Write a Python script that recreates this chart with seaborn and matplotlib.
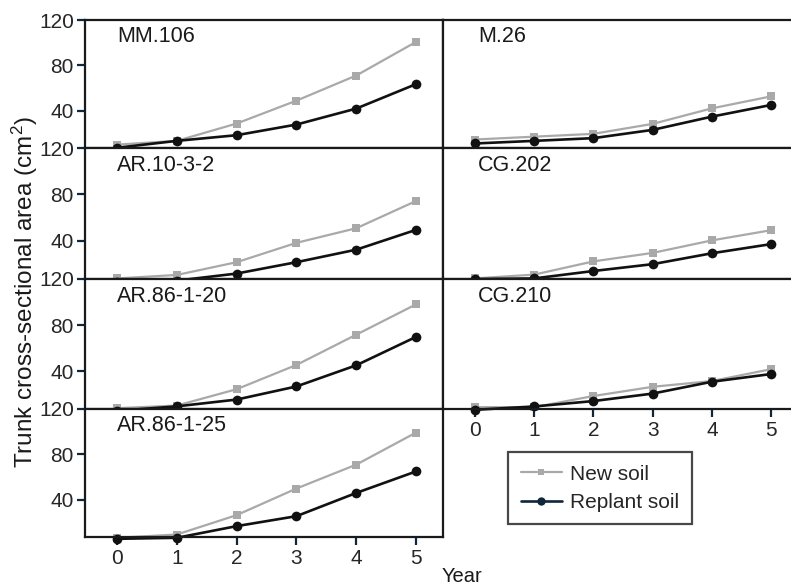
import pandas as pd
import matplotlib
matplotlib.use("Agg")
import matplotlib.pyplot as plt
import seaborn as sns

# ---------------------------------------------------------------
# data (trunk cross-sectional area, cm2)
# ---------------------------------------------------------------
years = [0, 1, 2, 3, 4, 5]

rootstocks = ["MM.106", "M.26", "AR.10-3-2", "CG.202",
              "AR.86-1-20", "CG.210", "AR.86-1-25"]

new_mm106 = [10.0, 13.3, 28.6, 48.8, 71.0, 100.7]
rep_mm106 = [7.2, 13.3, 18.3, 27.7, 41.8, 63.4]

new_m26 = [14.5, 17.0, 19.5, 28.3, 42.0, 52.6]
rep_m26 = [11.0, 13.3, 15.7, 23.0, 34.7, 45.0]

new_ar10 = [7.5, 10.5, 21.5, 38.2, 50.8, 74.3]
rep_ar10 = [4.1, 5.6, 11.7, 21.5, 32.3, 49.4]

new_cg202 = [7.5, 10.8, 22.2, 29.5, 40.3, 49.1]
rep_cg202 = [6.9, 7.5, 13.9, 19.8, 29.2, 37.1]

new_ar8620 = [7.7, 10.0, 24.2, 45.3, 71.6, 98.0]
rep_ar8620 = [5.4, 9.3, 15.2, 26.6, 45.0, 69.7]

new_cg210 = [8.6, 8.6, 18.3, 26.3, 31.3, 41.6]
rep_cg210 = [6.3, 9.2, 13.9, 20.4, 30.7, 37.4]

new_ar8625 = [6.3, 9.2, 26.3, 49.8, 70.9, 99.2]
rep_ar8625 = [5.4, 6.3, 16.6, 25.4, 45.9, 64.9]

new_soil = [new_mm106, new_m26, new_ar10, new_cg202, new_ar8620, new_cg210, new_ar8625]
replant_soil = [rep_mm106, rep_m26, rep_ar10, rep_cg202, rep_ar8620, rep_cg210, rep_ar8625]

soil_labels = ["New soil", "Replant soil"]
y_ticks = [40, 80, 120]

# long table for seaborn
rows = []
for name, new_vals, rep_vals in zip(rootstocks, new_soil, replant_soil):
    for yr, v in zip(years, new_vals):
        rows.append({"Rootstock": name, "Year": yr, "TCA": v, "Soil": soil_labels[0]})
    for yr, v in zip(years, rep_vals):
        rows.append({"Rootstock": name, "Year": yr, "TCA": v, "Soil": soil_labels[1]})
df = pd.DataFrame(rows)

# ---------------------------------------------------------------
sns.set_style("white")
plt.rcParams["font.family"] = ["Liberation Sans", "DejaVu Sans"]
plt.rcParams["mathtext.fontset"] = "custom"
plt.rcParams["mathtext.rm"] = "Liberation Sans"
plt.rcParams["mathtext.default"] = "regular"

W, H = 791, 586
fig = plt.figure(figsize=(W / 100, H / 100), dpi=100)

GRAY = "#a9a9a9"
DARK = "#111111"
TICKC = "#10263a"
TXT = "#1a1a1a"

row_px = [(20, 148), (148, 279), (279, 409), (409, 537)]
col_px = [(85, 443), (443, 796)]
col_xlim = [(-0.535, 5.45), (-0.54, 5.42)]

# panel order: left/right alternately, last one on the left
positions = [(0, 0), (0, 1), (1, 0), (1, 1), (2, 0), (2, 1), (3, 0)]

for name, (r, c) in zip(rootstocks, positions):
    top, bot = row_px[r]
    x0, x1 = col_px[c]
    ax = fig.add_axes([x0 / W, 1 - bot / H, (x1 - x0) / W, (bot - top) / H])
    sub = df[df["Rootstock"] == name]

    sns.lineplot(data=sub[sub["Soil"] == "New soil"], x="Year", y="TCA",
                 color=GRAY, lw=1.6, marker="s", markersize=5.5,
                 markeredgewidth=0, ax=ax, clip_on=False)
    sns.lineplot(data=sub[sub["Soil"] == "Replant soil"], x="Year", y="TCA",
                 color=DARK, lw=1.9, marker="o", markersize=7,
                 markeredgewidth=0, ax=ax, clip_on=False)

    ax.set_xlim(*col_xlim[c])
    ax.set_ylim(7, 120)
    ax.set_xlabel("")
    ax.set_ylabel("")
    ax.text(0.09 if c == 0 else 0.1, 0.95, name, transform=ax.transAxes,
            fontsize=15.5, va="top", ha="left", color=TXT)

    for sp in ax.spines.values():
        sp.set_visible(True)
        sp.set_color(TXT)
        sp.set_linewidth(1.6)

    if c == 0:
        ax.set_yticks(y_ticks)
        ax.set_yticklabels([str(t) for t in y_ticks])
        ax.tick_params(axis="y", direction="out", length=6, width=1.6,
                       color=TICKC, labelsize=15, pad=2, left=True)
    else:
        ax.set_yticks([])

    is_bottom = (c == 0 and r == 3) or (c == 1 and r == 2)
    if is_bottom:
        ax.set_xticks(years)
        ax.tick_params(axis="x", direction="out", length=6, width=1.6,
                       color=TICKC, labelsize=15, pad=3, bottom=True)
    else:
        ax.set_xticks([])

# legend
handles = [
    plt.Line2D([], [], color=GRAY, lw=1.6, marker="s", markersize=5, markeredgewidth=0),
    plt.Line2D([], [], color=TICKC, lw=1.9, marker="o", markersize=6, markeredgewidth=0),
]
leg = fig.legend(handles, soil_labels, loc="upper left",
                 bbox_to_anchor=(508 / W, 1 - 452 / H), bbox_transform=fig.transFigure,
                 frameon=True, fancybox=False, fontsize=15, handlelength=2.0,
                 handletextpad=0.4, borderpad=0.6, labelspacing=0.45,
                 borderaxespad=0)
leg.get_frame().set_edgecolor(TXT)
leg.get_frame().set_linewidth(1.6)

fig.text(25 / W, 1 - 292 / H, "Trunk cross-sectional area (cm$^{2}$)",
         rotation=90, ha="center", va="center", fontsize=17.5, color=TXT)
fig.text(462 / W, 1 - 577 / H, "Year", ha="center", va="center",
         fontsize=14.5, color=TXT)

fig.savefig("out.png", dpi=100)
